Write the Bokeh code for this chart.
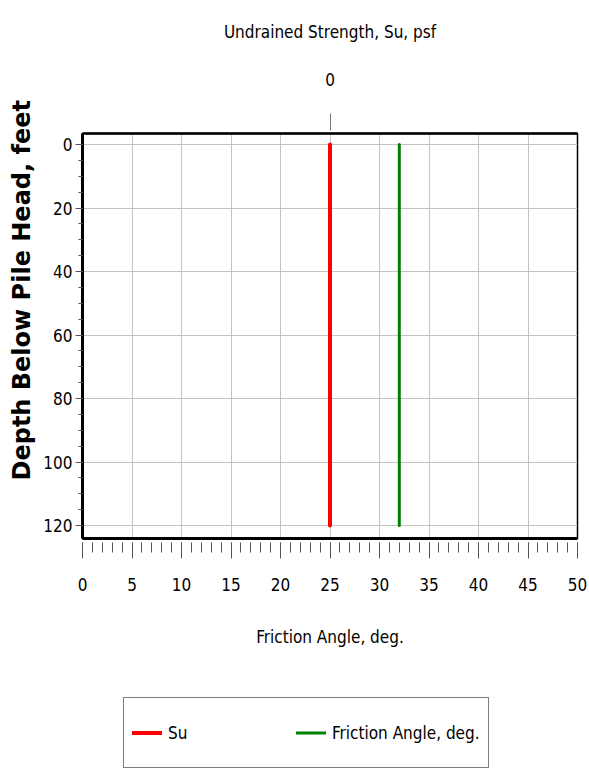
from bokeh.plotting import figure
from bokeh.layouts import column
from bokeh.models import (Range1d, LinearAxis, FixedTicker, Legend, LegendItem, Title)
from bokeh.embed import file_html
from bokeh.resources import INLINE

# ---- data ----
depth_ft = [0, 120]
su_psf = [0, 0]
friction_deg = [32, 32]
x_ticks = [0, 5, 10, 15, 20, 25, 30, 35, 40, 45, 50]
x_minor = list(range(0, 51))
y_ticks = [0, 20, 40, 60, 80, 100, 120]
y_minor = list(range(0, 121, 5))
su_ticks = [0]
series_labels = ["Su", "Friction Angle, deg."]
series_colors = ["#ff0000", "#008000"]
series_widths = [4, 3]

FONT = "DejaVu Sans Condensed, Liberation Sans"
FS = "17px"

p = figure(frame_width=495, frame_height=405,
           x_range=Range1d(0, 50), y_range=Range1d(124.1, -3.5),
           output_backend="svg", toolbar_location=None,
           min_border_left=82, min_border_right=12,
           min_border_top=133, min_border_bottom=159)
p.background_fill_color = "white"
p.border_fill_color = "white"
p.outline_line_color = "black"
p.outline_line_width = 1.5

p.extra_x_ranges = {"su": Range1d(-1, 1)}

# grid
p.xgrid.ticker = FixedTicker(ticks=x_ticks)
p.ygrid.ticker = FixedTicker(ticks=y_ticks)
for g in (p.xgrid, p.ygrid):
    g.grid_line_color = "#c4c4c4"
    g.grid_line_width = 1

# bottom axis
xa = p.xaxis[0]
xa.ticker = FixedTicker(ticks=x_ticks, minor_ticks=x_minor)
xa.axis_line_color = "black"
xa.axis_line_width = 3
xa.major_tick_in = -4
xa.major_tick_out = 20
xa.minor_tick_in = -4
xa.minor_tick_out = 14
xa.major_tick_line_color = "#555555"
xa.minor_tick_line_color = "#555555"
xa.major_label_standoff = 19
xa.major_label_text_font = FONT
xa.major_label_text_font_size = FS
xa.major_label_text_color = "black"
xa.axis_label = "Friction Angle, deg."
xa.axis_label_standoff = 33
xa.axis_label_text_font = FONT
xa.axis_label_text_font_size = FS
xa.axis_label_text_font_style = "normal"
xa.axis_label_text_color = "black"

# left axis
ya = p.yaxis[0]
ya.ticker = FixedTicker(ticks=y_ticks, minor_ticks=y_minor)
ya.axis_line_color = "black"
ya.axis_line_width = 3
ya.major_tick_in = 0
ya.major_tick_out = 7
ya.minor_tick_in = 0
ya.minor_tick_out = 4
ya.major_tick_line_color = "#555555"
ya.minor_tick_line_color = "#555555"
ya.major_label_standoff = 3
ya.major_label_text_font = FONT
ya.major_label_text_font_size = FS
ya.major_label_text_color = "black"

p.add_layout(Title(text="Depth Below Pile Head, feet", align="left", offset=58,
                   text_font="DejaVu Sans", text_font_style="bold",
                   text_font_size="24px", text_color="black"), "left")

# top axis (undrained strength)
ta = LinearAxis(x_range_name="su", ticker=FixedTicker(ticks=su_ticks, minor_ticks=[]),
                axis_label="Undrained Strength, Su, psf")
ta.axis_line_color = "black"
ta.axis_line_width = 2.5
ta.major_tick_in = -3
ta.major_tick_out = 20
ta.minor_tick_out = 0
ta.major_tick_line_color = "#777777"
ta.major_label_standoff = 28
ta.major_label_text_font = FONT
ta.major_label_text_font_size = FS
ta.major_label_text_color = "black"
ta.axis_label_standoff = 28
ta.axis_label_text_font = FONT
ta.axis_label_text_font_size = FS
ta.axis_label_text_font_style = "normal"
ta.axis_label_text_color = "black"
p.add_layout(ta, "above")

# series
r_su = p.line(x=su_psf, y=depth_ft, x_range_name="su", line_color=series_colors[0],
              line_width=series_widths[0], line_cap="round")
r_fr = p.line(x=friction_deg, y=depth_ft, line_color=series_colors[1],
              line_width=series_widths[1], line_cap="round")

# ---- legend panel below the chart (its frame is aligned with the chart frame) ----
lf = figure(width=589, height=75, x_range=Range1d(1000, 1001), y_range=Range1d(1000, 1001),
            output_backend="svg", toolbar_location=None,
            min_border_left=0, min_border_right=0, min_border_top=0, min_border_bottom=0)
lf.axis.visible = False
lf.grid.visible = False
lf.outline_line_color = None
lf.background_fill_color = "white"
lf.border_fill_color = "white"
# same series, drawn off-range so only their legend swatches show
l_su = lf.line(x=su_psf, y=depth_ft, line_color=series_colors[0],
               line_width=series_widths[0], line_cap="round")
l_fr = lf.line(x=friction_deg, y=depth_ft, line_color=series_colors[1],
               line_width=series_widths[1], line_cap="round")

legend = Legend(items=[LegendItem(label=series_labels[0], renderers=[l_su]),
                       LegendItem(label=series_labels[1], renderers=[l_fr])],
                orientation="horizontal", location=(41, 4),
                spacing=108, padding=8, margin=0,
                glyph_width=30, glyph_height=53, label_height=53,
                label_standoff=6, border_line_color="black", border_line_width=1,
                label_text_font=FONT, label_text_font_size=FS,
                label_text_color="black",
                background_fill_color="white")
lf.add_layout(legend, "center")

open("out.html", "w").write(file_html(column(p, lf, spacing=0), INLINE))
